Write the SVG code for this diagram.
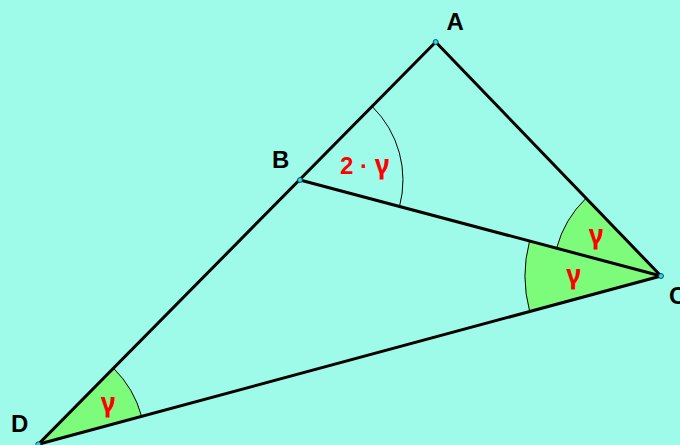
<svg xmlns="http://www.w3.org/2000/svg" width="680" height="445" viewBox="0 0 680 445">
<style>
.sector{fill:#7dfb7a;stroke:#000;stroke-width:1}
.arc{fill:none;stroke:#000;stroke-width:1}
.seg{stroke:#000;stroke-width:3;stroke-linecap:round}
.pt{fill:#22dcea;stroke:#124;stroke-width:0.8}
.lbl{font-family:"Liberation Sans",Arial,sans-serif;font-weight:bold;font-size:24px;fill:#000}
.ang{font-family:"Liberation Sans",Arial,sans-serif;font-weight:bold;font-size:24px;fill:#ff0000}
.g{font-family:"Noto Sans",sans-serif;font-weight:bold;font-size:26px;fill:#ff0000}
</style>
<rect x="0" y="0" width="680" height="445" fill="#9ffbe9"/>
<g id="angles">
<path class="sector" d="M 38.3 444.3 L 113.5 368.2 A 107 107 0 0 1 141.6 416.4 Z"/>
<path class="sector" d="M 661 276 L 586.1 198.2 A 108 108 0 0 0 556.6 248.2 Z"/>
<path class="sector" d="M 661 276 L 529.6 241 A 136 136 0 0 0 529.7 311.5 Z"/>
<path class="arc" d="M 372.2 106.5 A 103 103 0 0 1 399.5 206.5"/>
</g>
<g id="connectors">
<line class="seg" x1="435.7" y1="42" x2="38.3" y2="444.3"/>
<line class="seg" x1="435.7" y1="42" x2="661" y2="276"/>
<line class="seg" x1="300" y1="180" x2="661" y2="276"/>
<line class="seg" x1="38.3" y1="444.3" x2="661" y2="276"/>
</g>
<g id="A"><circle class="pt" cx="435.7" cy="42" r="2.5"/><text class="lbl" x="446.5" y="29.5">A</text></g>
<g id="B"><circle class="pt" cx="300" cy="180" r="2.5"/><text class="lbl" x="272" y="168">B</text></g>
<g id="C"><circle class="pt" cx="661" cy="276" r="2.5"/><text class="lbl" x="669" y="304">C</text></g>
<g id="D"><circle class="pt" cx="38.3" cy="444.3" r="2.5"/><text class="lbl" x="11" y="432">D</text></g>
<g id="labels">
<text class="ang" x="340" y="173.5">2 · <tspan class="g">γ</tspan></text>
<text class="g" x="596" y="244" text-anchor="middle">γ</text>
<text class="g" x="573.5" y="284" text-anchor="middle">γ</text>
<text class="g" x="108" y="411.5" text-anchor="middle">γ</text>
</g>
</svg>
